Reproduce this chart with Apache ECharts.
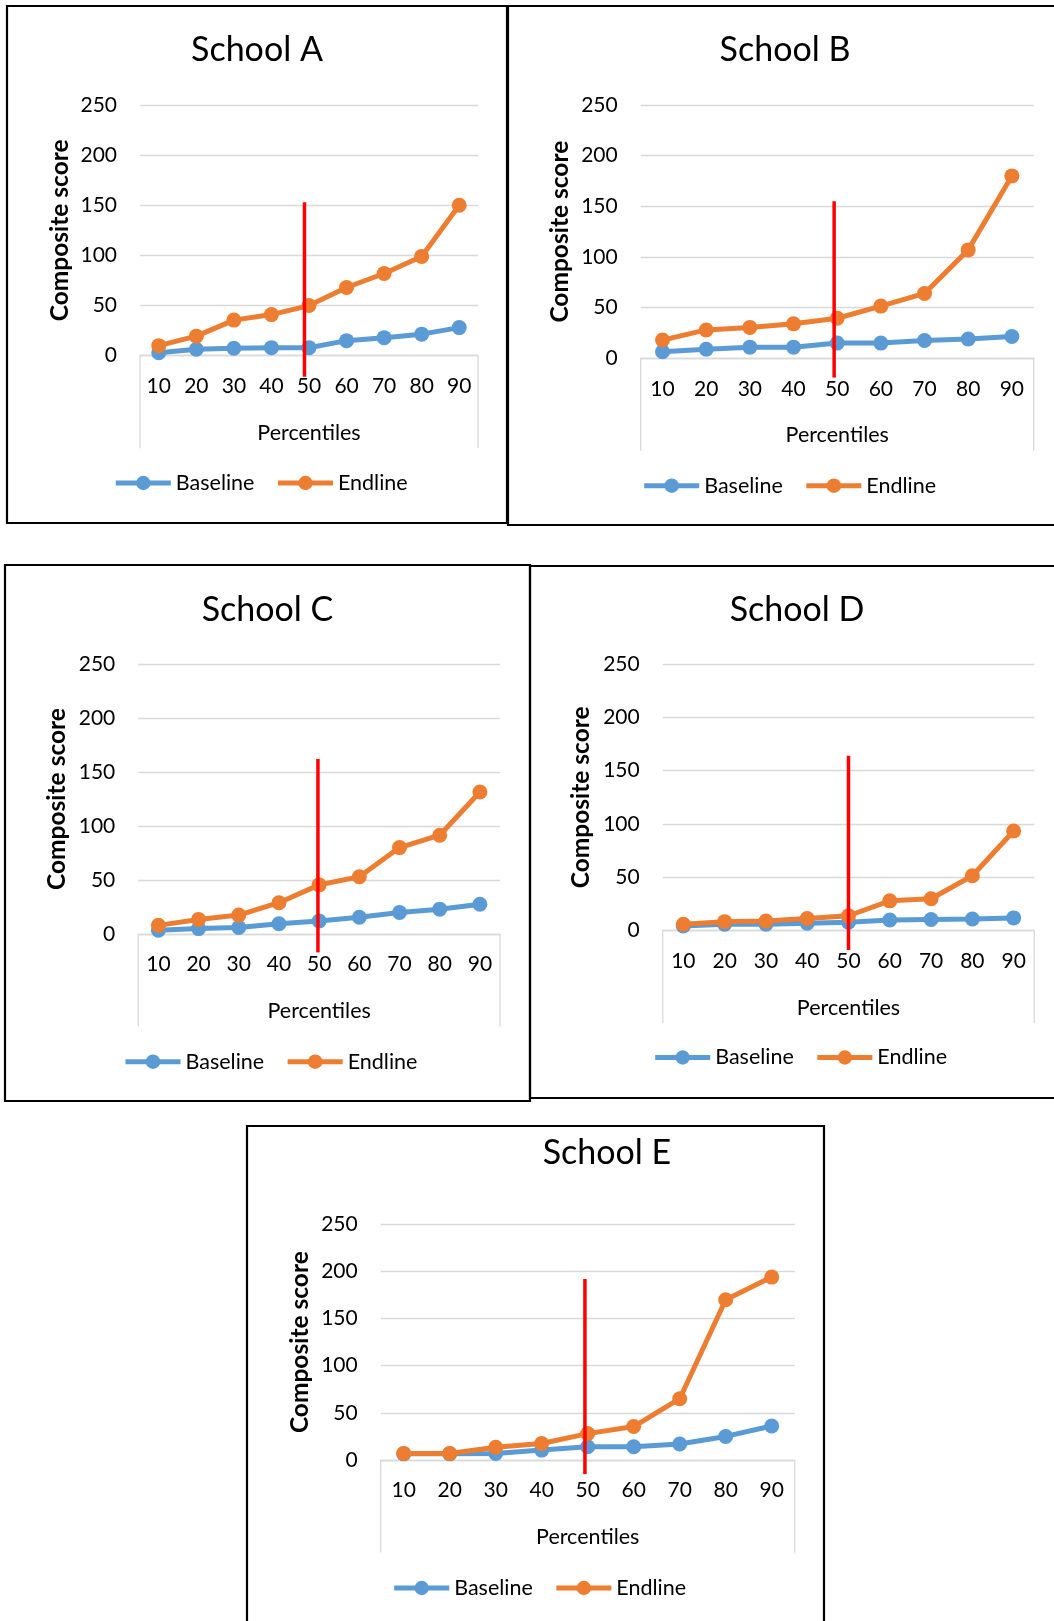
<!DOCTYPE html>
<html>
<head>
<meta charset="utf-8">
<script src="https://cdn.jsdelivr.net/npm/echarts@6/dist/echarts.min.js"></script>
<style>
  html, body { margin: 0; padding: 0; background: #fff; }
  #main { width: 1054px; height: 1621px; }
</style>
</head>
<body>
<div id="main"></div>
<script>
var schools = ["School A", "School B", "School C", "School D", "School E"];
var percentiles = ["10", "20", "30", "40", "50", "60", "70", "80", "90"];
var yTicks = [0, 50, 100, 150, 200, 250];

var baselineA = [3, 6.5, 7.5, 8, 8, 15, 18, 21.5, 28];
var endlineA = [10, 19.5, 35.5, 41, 50, 68, 82, 99, 150];
var baselineB = [6.5, 9, 11, 11, 15, 15, 17.5, 19, 21.5];
var endlineB = [18, 28, 30.5, 34, 39.5, 51.5, 64, 107, 180];
var baselineC = [3.5, 5, 6, 9.5, 12, 15.5, 20, 23, 27.5];
var endlineC = [8, 13.5, 17.5, 29, 45.5, 53, 80, 91.5, 131.5];
var baselineD = [4.5, 6, 6, 7, 8, 10, 10.5, 11, 12];
var endlineD = [6, 8.5, 9, 11.5, 14, 28, 30, 51.5, 93.5];
var baselineE = [6.5, 6.5, 7, 10.5, 14, 14, 17, 25, 36];
var endlineE = [7, 7, 13.5, 17.5, 28, 35.5, 65, 170, 194];

// red cut-off line near the 50th percentile (values on the y scale, x as category index)
var cutTop = [153, 155, 162, 164, 192];
var cutBottom = [-21, -19, -17, -18, -15];
var cutIndex = [3.88, 3.93, 3.97, 4.0, 3.94];

var baselines = [baselineA, baselineB, baselineC, baselineD, baselineE];
var endlines = [endlineA, endlineB, endlineC, endlineD, endlineE];

// layout of the five panels
var frames = [[7, 6, 500, 517], [508, 6, 560, 519], [5, 565, 525, 536], [530, 566, 540, 532], [247, 1126, 577, 520]];
var grids = [[140, 105, 338, 250.7], [640.7, 105, 393, 253.3], [138.3, 664, 361.7, 270], [662.7, 664, 371.6, 266.7], [380.7, 1224.3, 414, 235.7]];
var titlePos = [[257, 50], [785, 50], [267.5, 610], [797, 610], [607, 1153]];
var legendPos = [[113.3, 484], [641.7, 486.7], [123, 1062.7], [652.7, 1058.5], [391.7, 1589]];
var yNameX = [58.3, 558.3, 56, 580, 298.3];

var font = "Lato, 'Open Sans', sans-serif";
var blue = "#5B9BD5";
var orange = "#ED7D31";
var gridColor = "#D9D9D9";

var myChart = echarts.init(document.getElementById("main"));

var gridList = [], xAxes = [], yAxes = [], seriesList = [], legends = [];
for (var i = 0; i < 5; i++) {
  var gr = grids[i];
  gridList.push({ left: gr[0], top: gr[1], width: gr[2], height: gr[3], containLabel: false });
  xAxes.push({
    type: "category",
    gridIndex: i,
    data: percentiles,
    boundaryGap: true,
    axisLine: { show: true, lineStyle: { color: gridColor, width: 1.3 } },
    axisTick: { show: false },
    axisLabel: { color: "#000", fontSize: 21, fontFamily: font, margin: 20 },
    name: "Percentiles",
    nameLocation: "middle",
    nameGap: 66,
    nameTextStyle: { color: "#000", fontSize: 21.5, fontFamily: font }
  });
  yAxes.push({
    type: "value",
    gridIndex: i,
    min: yTicks[0],
    max: yTicks[yTicks.length - 1],
    interval: 50,
    axisLine: { show: false },
    axisTick: { show: false },
    splitLine: { show: true, lineStyle: { color: gridColor, width: 1.3 } },
    axisLabel: { color: "#000", fontSize: 21, fontFamily: font, margin: 23 },
    name: "Composite score",
    nameLocation: "middle",
    nameRotate: 90,
    nameGap: gr[0] - yNameX[i] - 14,
    nameTextStyle: { color: "#000", fontSize: 24.5, fontWeight: "bold", fontFamily: font }
  });
  seriesList.push({
    name: "Baseline",
    type: "line",
    xAxisIndex: i,
    yAxisIndex: i,
    data: baselines[i],
    symbol: "circle",
    symbolSize: 15,
    lineStyle: { color: blue, width: 5 },
    itemStyle: { color: blue },
    z: 3
  });
  seriesList.push({
    name: "Endline",
    type: "line",
    xAxisIndex: i,
    yAxisIndex: i,
    data: endlines[i],
    symbol: "circle",
    symbolSize: 15,
    lineStyle: { color: orange, width: 5 },
    itemStyle: { color: orange },
    z: 4
  });
  legends.push({
    data: ["Baseline", "Endline"],
    left: legendPos[i][0],
    top: legendPos[i][1] - 12,
    padding: 0,
    itemWidth: 55,
    itemHeight: 18,
    itemGap: 21,
    lineStyle: { width: 5 },
    textStyle: { color: "#000", fontSize: 21.5, fontFamily: font }
  });
}

myChart.setOption({
  animation: false,
  backgroundColor: "#fff",
  grid: gridList,
  xAxis: xAxes,
  yAxis: yAxes,
  legend: legends,
  series: seriesList
});

// frames, titles, the grey box under each plot and the red cut-off lines
var graphics = [];
for (var k = 0; k < 5; k++) {
  var f = frames[k];
  graphics.push({
    type: "rect",
    shape: { x: f[0], y: f[1], width: f[2], height: f[3] },
    style: { fill: "none", stroke: "#000", lineWidth: 2.2 },
    z: 1
  });
  graphics.push({
    type: "text",
    x: titlePos[k][0],
    y: titlePos[k][1],
    style: { text: schools[k], fill: "#000", fontSize: 34, fontFamily: font, align: "center", verticalAlign: "middle" },
    z: 5
  });
  var gr2 = grids[k];
  var yBase = gr2[1] + gr2[3];
  [gr2[0], gr2[0] + gr2[2]].forEach(function (xx) {
    graphics.push({
      type: "line",
      shape: { x1: xx, y1: yBase, x2: xx, y2: yBase + 92.5 },
      style: { stroke: gridColor, lineWidth: 1.3 },
      z: 1
    });
  });
  var lo = Math.floor(cutIndex[k]);
  var frac = cutIndex[k] - lo;
  var pA = myChart.convertToPixel({ gridIndex: k }, [lo, cutTop[k]]);
  var pB = myChart.convertToPixel({ gridIndex: k }, [lo + 1, cutTop[k]]);
  var pBottom = myChart.convertToPixel({ gridIndex: k }, [lo, cutBottom[k]]);
  var cx = pA[0] + frac * (pB[0] - pA[0]);
  graphics.push({
    type: "line",
    shape: { x1: cx, y1: pA[1], x2: cx, y2: pBottom[1] },
    style: { stroke: "#FF0000", lineWidth: 3.5 },
    z: 100
  });
}
myChart.setOption({ graphic: graphics });
</script>
</body>
</html>
